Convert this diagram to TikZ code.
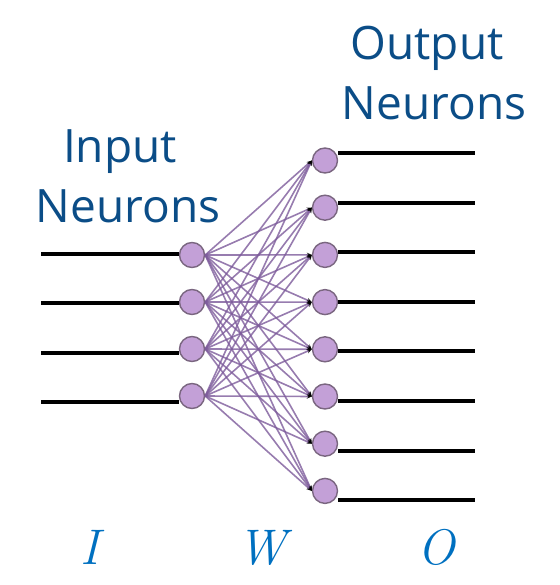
\documentclass[tikz,border=0pt]{standalone}
\usepackage{fontspec}
\usetikzlibrary{arrows.meta}
\newfontfamily\headfont{Open Sans}
\definecolor{headblue}{HTML}{0B4D87}
\definecolor{symblue}{HTML}{0070C0}
\definecolor{cellfill}{HTML}{C3A0D7}
\definecolor{celledge}{HTML}{7A6680}
\definecolor{wire}{HTML}{7D5B9B}

\begin{document}
\begin{tikzpicture}[x=1pt, y=-1pt,
  neuron/.style={circle, fill=cellfill, draw=celledge, line width=1.4pt, minimum size=25pt, inner sep=0pt},
  synapse/.style={draw=wire, draw opacity=0.8, line width=1.6pt, -{Stealth[black, length=5pt, width=4.5pt]}},
  lead/.style={line width=4pt, black},
  title/.style={font=\headfont\fontsize{46}{60}\selectfont, text=headblue, anchor=base, inner sep=0pt},
  symbol/.style={font=\fontsize{50}{60}\selectfont\itshape, text=symblue, anchor=base, inner sep=0pt}]
\useasboundingbox (0,0) rectangle (559,585);

\node[title] (inname1) at (120,163) {Input};
\node[title] (inname2) at (128,222) {Neurons};
\node[title] (outname1) at (427,60) {Output};
\node[title] (outname2) at (434,120) {Neurons};

\foreach \k in {1,...,4}
  \node[neuron] (i\k) at (192,{255+47*(\k-1)}) {};
\foreach \k in {1,...,8}
  \node[neuron] (o\k) at (325,{160.5+47.2*(\k-1)}) {};

\foreach \k in {1,...,4} {
  \coordinate (in\k) at (41,{254+49.3*(\k-1)});
  \draw[lead] (in\k) -- (i\k.west |- in\k);
}
\foreach \k in {1,...,8} {
  \coordinate (out\k) at (475,{153+49.6*(\k-1)});
  \draw[lead] (o\k.east |- out\k) -- (out\k);
}

\foreach \a in {1,...,4}
  \foreach \b in {1,...,8}
    \draw[synapse] (i\a.east) -- (o\b.west);

\node[symbol] (isym) at (90,564) {I};
\node[symbol] (wsym) at (262,564) {W};
\node[symbol] (osym) at (436,564) {O};
\end{tikzpicture}
\end{document}
